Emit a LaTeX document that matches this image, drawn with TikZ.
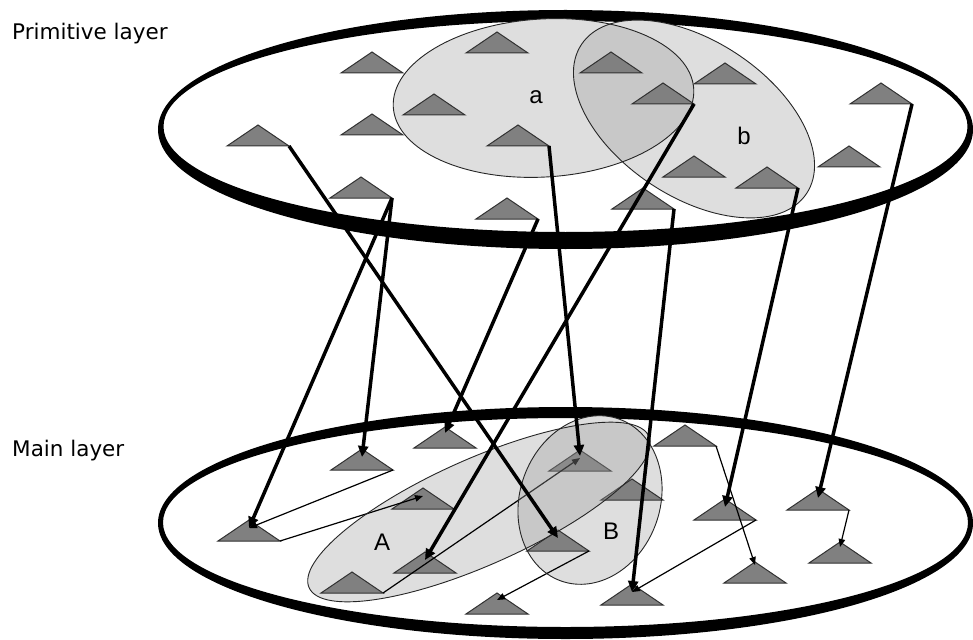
\documentclass[tikz,border=0pt]{standalone}
\usepackage{fontspec}
\setmainfont{DejaVu Sans}
\newfontfamily\labfont{Liberation Sans}
\usetikzlibrary{arrows.meta,calc}
\definecolor{trigray}{RGB}{128,128,128}
\definecolor{triedge}{RGB}{50,50,50}
\definecolor{ellfill}{RGB}{222,222,222}
\definecolor{ellover}{RGB}{200,200,200}
\definecolor{fadecol}{RGB}{160,160,160}
\newcommand\mytri[3]{\node[trinode] (#1) at (#2,#3) {};
  \filldraw[trifill] (#1.south west) -- (#1.north) -- (#1.south east) -- cycle;}
\begin{document}
\begin{tikzpicture}[x=1pt,y=-1pt,
  trinode/.style={minimum width=62pt, minimum height=21pt, inner sep=0pt, outer sep=0pt, anchor=north},
  trifill/.style={fill=trigray, draw=triedge, line width=1pt, line join=miter},
  bigarrow/.style={line width=3.5pt, -{Triangle[length=11pt,width=10pt]}},
  smallarrow/.style={line width=1.2pt, -{Triangle[length=8pt,width=6.5pt]}},
  ellline/.style={draw=black!85, line width=0.9pt},
  layertext/.style={anchor=base west, inner sep=0pt, font=\fontsize{21.5}{24}\selectfont},
  lab/.style={font=\labfont\fontsize{24}{26}\selectfont, inner sep=0pt}
]
\useasboundingbox (0,0) rectangle (973,639);

% discs
\fill[black, even odd rule] (565.5,129.5) ellipse [x radius=407.5, y radius=119.5]
  (565.5,126.5) ellipse [x radius=402, y radius=105.5];
\fill[black, even odd rule] (565.5,523) ellipse [x radius=407.5, y radius=116]
  (565.5,522.5) ellipse [x radius=402.5, y radius=104.5];

% top group ellipses a and b
\fill[ellfill, rotate around={3.5:(543.5,98)}] (543.5,98) ellipse [x radius=150.5, y radius=79];
\fill[ellfill, rotate around={-33.5:(694,119)}] (694,119) ellipse [x radius=135, y radius=78];
\begin{scope}
  \clip[rotate around={3.5:(543.5,98)}] (543.5,98) ellipse [x radius=150.5, y radius=79];
  \fill[ellover, rotate around={-33.5:(694,119)}] (694,119) ellipse [x radius=135, y radius=78];
\end{scope}
\draw[ellline, rotate around={3.5:(543.5,98)}] (543.5,98) ellipse [x radius=150.5, y radius=79];
\draw[ellline, rotate around={-33.5:(694,119)}] (694,119) ellipse [x radius=135, y radius=78];

% bottom group ellipses A and B
\fill[ellfill, rotate around={24:(479,512)}] (479,512) ellipse [x radius=186, y radius=53];
\fill[ellfill, rotate around={-20:(590,500)}] (590,500) ellipse [x radius=70, y radius=86];

% top triangles
\mytri{t1}{497}{32}
\mytri{t2}{372}{52}
\mytri{t3}{434}{94}
\mytri{t4}{372}{114}
\mytri{t5}{518}{125}
\mytri{t6}{258}{125}
\mytri{t7}{361}{177}
\mytri{t8}{507}{198}
\mytri{t9}{611}{52}
\mytri{t10}{725}{63}
\mytri{t11}{663}{83}
\mytri{t12}{881}{83}
\mytri{t13}{694}{156}
\mytri{t14}{849}{146}
\mytri{t15}{767}{167}
\mytri{t16}{643}{188}

% bottom triangles
\mytri{b1}{249}{520}
\mytri{b2}{362}{449}
\mytri{b3}{445}{427}
\mytri{b4}{423}{488}
\mytri{b5}{425}{552}
\mytri{b6}{352}{572}
\mytri{b7}{497}{593}
\mytri{b8}{558}{530}
\mytri{b9}{580}{450}
\mytri{b10}{632}{479}
\mytri{b11}{685}{425}
\mytri{b12}{725}{499}
\mytri{b13}{818}{489}
\mytri{b14}{840}{542}
\mytri{b15}{755}{562}
\mytri{b16}{632}{584}

% thin links in the main layer
\draw[smallarrow] (b2.south east) -- ($(b1.north)+(0,8)$);
\draw[smallarrow] (b1.south east) -- ($(b4.north)+(0,8)$);
\draw[smallarrow] (b6.south east) -- ($(b9.north)+(0,8)$);
\draw[smallarrow] (b8.south east) -- ($(b7.north)+(0,7)$);
\draw[smallarrow] (b12.south east) -- ($(b16.north)+(0,8)$);
\draw[smallarrow] (b11.south east) -- ($(b15.north)+(0,3)$);
\draw[smallarrow] (b13.south east) -- ($(b14.north)+(0,5)$);

% overlap of A and B
\begin{scope}
  \clip[rotate around={24:(479,512)}] (479,512) ellipse [x radius=186, y radius=53];
  \fill[fadecol, fill opacity=0.35, rotate around={-20:(590,500)}] (590,500) ellipse [x radius=70, y radius=86];
\end{scope}
\draw[ellline, rotate around={24:(479,512)}] (479,512) ellipse [x radius=186, y radius=53];
\draw[ellline, rotate around={-20:(590,500)}] (590,500) ellipse [x radius=70, y radius=86];

% thick links between layers
\draw[bigarrow] (t6.south east) -- ($(b8.north)+(0,8)$);
\draw[bigarrow] (t7.south east) -- ($(b1.north)+(0,8)$);
\draw[bigarrow] (t7.south east) -- ($(b2.north)+(0,8)$);
\draw[bigarrow] (t8.south east) -- ($(b3.north)+(0,6)$);
\draw[bigarrow] (t5.south east) -- ($(b9.north)+(0,6)$);
\draw[bigarrow] (t11.south east) -- ($(b5.north)+(0,8)$);
\draw[bigarrow] (t16.south east) -- ($(b16.north)+(0,8)$);
\draw[bigarrow] (t15.south east) -- ($(b12.north)+(0,8)$);
\draw[bigarrow] (t12.south east) -- ($(b13.north)+(0,9)$);

% labels
\node[layertext] (ptext) at (12,40) {Primitive layer};
\node[layertext] (mtext) at (12,456) {Main layer};
\node[lab] (la) at (536,97) {a};
\node[lab] (lb) at (744,136) {b};
\node[lab] (lA) at (382,542) {A};
\node[lab] (lB) at (611,531) {B};
\end{tikzpicture}
\end{document}
